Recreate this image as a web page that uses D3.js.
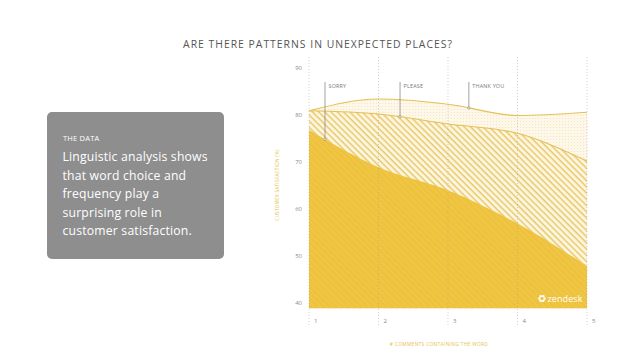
<!DOCTYPE html>
<html>
<head>
<meta charset="utf-8">
<script src="https://cdn.jsdelivr.net/npm/d3@7"></script>
<style>
  body { margin: 0; background: #fff; }
  svg { display: block; font-family: "Open Sans", sans-serif; }
</style>
</head>
<body>
<div id="viz"></div>
<script>
const width = 638;
const height = 359;

// data
const commentCounts = [1, 2, 3, 4, 5];
const thankYouValues = [80.9, 83.4, 82.3, 79.9, 80.6];
const pleaseValues = [80.9, 80.2, 78.1, 76.1, 70.2];
const sorryValues = [76.8, 68.9, 64.0, 56.9, 47.9];
const yTicks = [40, 50, 60, 70, 80, 90];
const annotationLabels = ['SORRY', 'PLEASE', 'THANK YOU'];
const annotationX = [1.23, 2.31, 3.30];
const cardLines = ['Linguistic analysis shows', 'that word choice and', 'frequency play a', 'surprising role in', 'customer satisfaction.'];

const baseValue = 38.9;
const lineColor = '#e6bf55';
const solidColor = '#eec23c';

const svg = d3.select('#viz')
  .append('svg')
  .attr('width', width)
  .attr('height', height)
  .attr('viewBox', [0, 0, width, height]);

// patterns
const defs = svg.append('defs');

const hatch = defs.append('pattern')
  .attr('id', 'hatch')
  .attr('patternUnits', 'userSpaceOnUse')
  .attr('width', 4.4)
  .attr('height', 4.4)
  .attr('patternTransform', 'rotate(-45)');
hatch.append('rect').attr('width', 4.4).attr('height', 4.4).attr('fill', '#fcf5df');
hatch.append('line')
  .attr('x1', 1).attr('x2', 1).attr('y1', 0).attr('y2', 4.4)
  .attr('stroke', '#e9c45e').attr('stroke-width', 1.3);

const dots = defs.append('pattern')
  .attr('id', 'dots')
  .attr('patternUnits', 'userSpaceOnUse')
  .attr('width', 3)
  .attr('height', 3);
dots.append('rect').attr('width', 3).attr('height', 3).attr('fill', '#fdf8ea');
dots.append('circle').attr('cx', 1.5).attr('cy', 1.5).attr('r', 0.55).attr('fill', '#f3e3b8');

const solid = defs.append('pattern')
  .attr('id', 'solid')
  .attr('patternUnits', 'userSpaceOnUse')
  .attr('width', 4.4)
  .attr('height', 4.4)
  .attr('patternTransform', 'rotate(-45)');
solid.append('rect').attr('width', 4.4).attr('height', 4.4).attr('fill', solidColor);
solid.append('line')
  .attr('x1', 1).attr('x2', 1).attr('y1', 0).attr('y2', 4.4)
  .attr('stroke', '#f0c84c').attr('stroke-width', 1.2);

// scales
const xScale = d3.scaleLinear()
  .domain([1, 5])
  .range([309, 587]);

const yScale = d3.scaleLinear()
  .domain([40, 90])
  .range([303, 68]);

// title
svg.append('text')
  .attr('x', 318)
  .attr('y', 48)
  .attr('text-anchor', 'middle')
  .attr('font-size', 10.4)
  .attr('letter-spacing', 1)
  .attr('fill', '#555')
  .text('ARE THERE PATTERNS IN UNEXPECTED PLACES?');

// left card
const card = svg.append('g');
card.append('rect')
  .attr('x', 47).attr('y', 112)
  .attr('width', 177).attr('height', 147)
  .attr('rx', 5)
  .attr('fill', '#8e8e8e');
card.append('text')
  .attr('x', 63).attr('y', 141)
  .attr('font-size', 7.5)
  .attr('letter-spacing', 0.2)
  .attr('fill', '#fff')
  .text('THE DATA');
card.selectAll('.card-line')
  .data(cardLines)
  .join('text')
    .attr('class', 'card-line')
    .attr('x', 62.5)
    .attr('y', (d, i) => 161 + i * 18.6)
    .attr('font-size', 12.2)
    .attr('letter-spacing', 0.2)
    .attr('fill', '#fff')
    .text(d => d);

// areas
const rows = commentCounts.map((c, i) => ({
  c: c, thanks: thankYouValues[i], please: pleaseValues[i], sorry: sorryValues[i]
}));

const makeArea = key => d3.area()
  .x(d => xScale(d.c))
  .y0(yScale(baseValue))
  .y1(d => yScale(d[key]))
  .curve(d3.curveMonotoneX);

const makeLine = key => d3.line()
  .x(d => xScale(d.c))
  .y(d => yScale(d[key]))
  .curve(d3.curveMonotoneX);

svg.append('path').attr('d', makeArea('thanks')(rows)).attr('fill', 'url(#dots)');
svg.append('path').attr('d', makeArea('please')(rows)).attr('fill', 'url(#hatch)');
svg.append('path').attr('d', makeArea('sorry')(rows)).attr('fill', 'url(#solid)');

const lines = {};
['thanks', 'please'].forEach(key => {
  lines[key] = svg.append('path')
    .attr('d', makeLine(key)(rows))
    .attr('fill', 'none')
    .attr('stroke', lineColor)
    .attr('stroke-width', 1.1);
});
lines.sorry = svg.append('path')
  .attr('d', makeLine('sorry')(rows))
  .attr('fill', 'none')
  .attr('stroke', 'none');

// vertical grid lines
svg.append('g')
  .selectAll('line')
  .data(commentCounts)
  .join('line')
    .attr('x1', d => xScale(d))
    .attr('x2', d => xScale(d))
    .attr('y1', 57)
    .attr('y2', 326)
    .attr('stroke', '#9a9a9a')
    .attr('stroke-opacity', 0.55)
    .attr('stroke-width', 0.8)
    .attr('stroke-dasharray', '1,2');

// x tick labels
svg.append('g')
  .selectAll('text')
  .data(commentCounts)
  .join('text')
    .attr('x', d => xScale(d) + 5)
    .attr('y', 323)
    .attr('font-size', 6)
    .attr('fill', '#8a8a8a')
    .text(d => d);

// y tick labels
svg.append('g')
  .selectAll('text')
  .data(yTicks)
  .join('text')
    .attr('x', 302)
    .attr('y', d => yScale(d) + 2)
    .attr('text-anchor', 'end')
    .attr('font-size', 6)
    .attr('fill', '#8a8a8a')
    .text(d => d);

// axis titles
svg.append('text')
  .attr('transform', 'translate(279, 185) rotate(-90)')
  .attr('text-anchor', 'middle')
  .attr('font-size', 4.6)
  .attr('letter-spacing', 0.3)
  .attr('fill', '#e8c04a')
  .text('CUSTOMER SATISFACTION (%)');

svg.append('text')
  .attr('x', 439)
  .attr('y', 346)
  .attr('text-anchor', 'middle')
  .attr('font-size', 4.8)
  .attr('letter-spacing', 0.35)
  .attr('fill', '#e8c04a')
  .text('# COMMENTS CONTAINING THE WORD');

// find y of a path at a given x
const yOnPath = (path, x) => {
  const node = path.node();
  let lo = 0, hi = node.getTotalLength();
  for (let k = 0; k < 40; k++) {
    const mid = (lo + hi) / 2;
    if (node.getPointAtLength(mid).x < x) lo = mid; else hi = mid;
  }
  return node.getPointAtLength(lo).y;
};

// annotations
const annotationPaths = [lines.sorry, lines.please, lines.thanks];
const notes = svg.append('g');
annotationLabels.forEach((label, i) => {
  const x = xScale(annotationX[i]);
  const y = yOnPath(annotationPaths[i], x);
  notes.append('line')
    .attr('x1', x).attr('x2', x)
    .attr('y1', 82).attr('y2', y)
    .attr('stroke', '#8a8a8a')
    .attr('stroke-width', 0.8);
  notes.append('circle')
    .attr('cx', x).attr('cy', y)
    .attr('r', 1.3)
    .attr('fill', '#f6e6b4')
    .attr('stroke', '#8a8a8a')
    .attr('stroke-width', 0.6);
  notes.append('text')
    .attr('x', x + 3.5)
    .attr('y', 88)
    .attr('font-size', 5.4)
    .attr('letter-spacing', 0.2)
    .attr('fill', '#777')
    .text(label);
});

// zendesk logo
const logo = svg.append('g').attr('transform', 'translate(542, 298.5)');
d3.range(6).forEach(k => {
  const a = k * Math.PI / 3;
  logo.append('circle')
    .attr('cx', 2.5 * Math.cos(a))
    .attr('cy', 2.5 * Math.sin(a))
    .attr('r', 1.3)
    .attr('fill', '#fff');
});
logo.append('circle').attr('r', 1.5).attr('fill', solidColor);
svg.append('text')
  .attr('x', 547.5)
  .attr('y', 302)
  .attr('font-size', 9)
  .attr('letter-spacing', 0.1)
  .attr('fill', '#fff')
  .text('zendesk');
</script>
</body>
</html>
